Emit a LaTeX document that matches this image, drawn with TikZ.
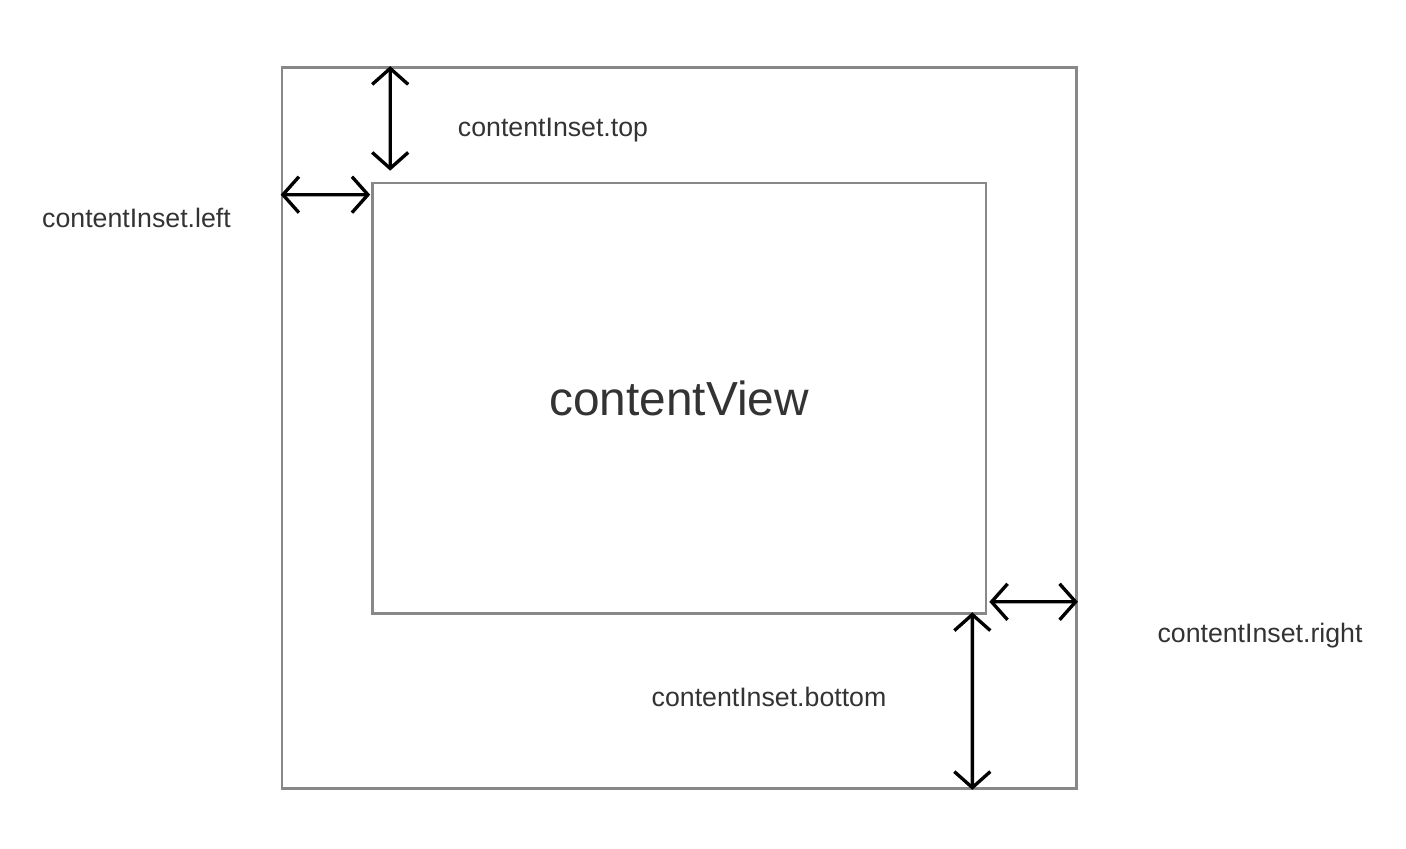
\documentclass[tikz,border=0pt]{standalone}
\usepackage{fontspec}
\setmainfont{Liberation Sans}
\usepackage{tikz}
\usetikzlibrary{shapes,arrows.meta,positioning}
\definecolor{framegray}{HTML}{888888}
\definecolor{labelgray}{HTML}{333333}
\tikzstyle{frame} = [draw=framegray, rectangle, line width=0.75pt, inner sep=0pt]
\tikzstyle{inset} = [<->, line width=0.95pt, >={Straight Barb[length=1.6mm,width=3.6mm]}]
\tikzstyle{lbl} = [text=labelgray, font=\fontsize{7.6}{9}\selectfont, inner sep=0pt]

\begin{document}
\begin{tikzpicture}
    \useasboundingbox (0,0) rectangle (14.06,8.48);
        \node [frame, minimum width=7.945cm, minimum height=7.21cm] (outer) at (6.7925,4.20) {};
        \node [frame, minimum width=6.135cm, minimum height=4.305cm, text=labelgray,
               font=\fontsize{13.6}{16}\selectfont] (inner) at (6.7925,4.4975) {contentView};

        \coordinate (topA) at ([xshift=1.095cm]outer.north west);
        \coordinate (topB) at ([xshift=0.19cm, yshift=0.11cm]inner.north west);
        \coordinate (leftA) at ([yshift=-1.285cm]outer.north west);
        \coordinate (leftB) at ([xshift=-0.01cm, yshift=-0.13cm]inner.north west);
        \coordinate (rightA) at ([xshift=0.02cm, yshift=0.13cm]inner.south east);
        \coordinate (rightB) at ([yshift=1.88cm]outer.south east);
        \coordinate (botA) at ([xshift=-0.15cm, yshift=0.025cm]inner.south east);
        \coordinate (botB) at ([xshift=-1.055cm]outer.south east);

        \draw[inset] (topA) -- (topB);
        \draw[inset] (leftA) -- (leftB);
        \draw[inset] (rightA) -- (rightB);
        \draw[inset] (botA) -- (botB);

        \node [lbl] (toplbl) at (5.53,7.18) {contentInset.top};
        \node [lbl] (leftlbl) at (1.365,6.30) {contentInset.left};
        \node [lbl] (rightlbl) at (12.60,2.12) {contentInset.right};
        \node [lbl] (botlbl) at (7.69,1.51) {contentInset.bottom};
    \end{tikzpicture}
\end{document}
